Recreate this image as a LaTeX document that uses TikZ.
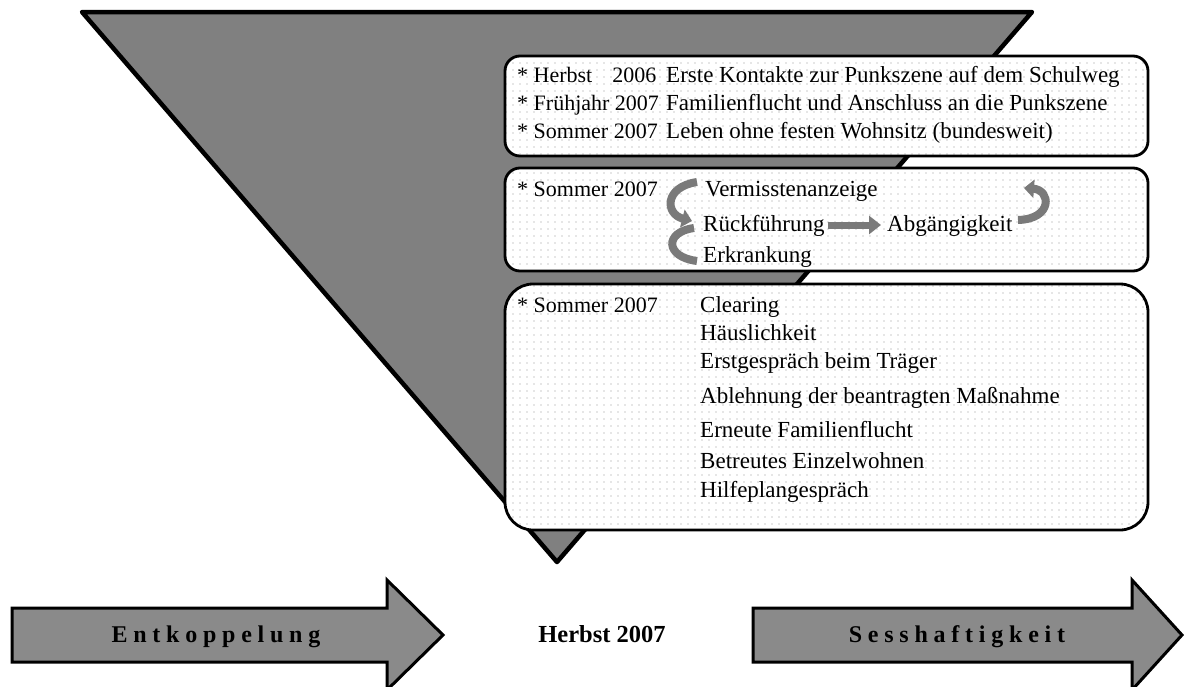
\documentclass[tikz,border=0pt]{standalone}
\usepackage{fontspec}
\setmainfont{Liberation Serif}
\newfontfamily\spacedbold[LetterSpace=24]{Liberation Serif}
\usetikzlibrary{patterns.meta,arrows.meta}
\definecolor{wedge}{HTML}{808080}
\definecolor{flowfill}{HTML}{8A8A8A}
\definecolor{loopgray}{HTML}{7A7A7A}
\begin{document}
\begin{tikzpicture}[x=1pt,y=-1pt,
  txt/.style={anchor=base west, inner sep=0pt, font=\fontsize{23}{27}\selectfont},
  datetxt/.style={anchor=base west, inner sep=0pt, font=\fontsize{22}{26}\selectfont},
  panel/.style={preaction={fill=white}, pattern={Dots[distance=6.5pt,radius=0.7pt]},
    pattern color=black!42, draw=black, line width=2.8pt},
  flow/.style={draw=black, line width=3pt, fill=flowfill, line join=miter},
  flowlabel/.style={inner sep=0pt, font=\fontsize{24}{28}\selectfont\spacedbold\bfseries},
  loop/.style={draw=loopgray, line width=8pt, -{Triangle[length=10pt,width=18pt]}},
  loopplain/.style={draw=loopgray, line width=8pt},
]
\useasboundingbox (0,0) rectangle (1184,686);

% inverted wedge
\draw[fill=wedge, line width=4.5pt, line join=round] (82,12) -- (1032,12) -- (557,562) -- cycle;

% panels
\draw[panel, rounded corners=15pt] (505,56) rectangle (1148,156);
\draw[panel, rounded corners=15pt] (505,168) rectangle (1148,271);
\draw[panel, rounded corners=28pt] (505,284) rectangle (1148,530);

% first panel
\node[datetxt] (d1) at (517,82) {* Herbst\hspace{20pt}2006};
\node[datetxt] (d2) at (517,110) {* Frühjahr 2007};
\node[datetxt] (d3) at (517,138) {* Sommer 2007};
\node[txt] (e1) at (666,82) {Erste Kontakte zur Punkszene auf dem Schulweg};
\node[txt] (e2) at (666,110) {Familienflucht und Anschluss an die Punkszene};
\node[txt] (e3) at (666,138) {Leben ohne festen Wohnsitz (bundesweit)};

% second panel
\node[datetxt] (d4) at (517,196) {* Sommer 2007};
\node[txt] (verm) at (705,196) {Vermisstenanzeige};
\node[txt] (rueck) at (703,231) {Rückführung};
\node[txt] (abg) at (887,231) {Abgängigkeit};
\node[txt] (erkr) at (703,262) {Erkrankung};
\draw[draw=loopgray, line width=7pt, -{Triangle[length=12pt,width=18pt]}]
  ([xshift=3pt,yshift=6pt]rueck.base east) -- ([xshift=-6pt,yshift=6pt]abg.base west);
\draw[loop] (697,182) .. controls (664,187) and (665,214) .. (692,221);
\draw[loopplain] (694,228) .. controls (664,232) and (665,257) .. (697,261);
\draw[loop] (1018,220) .. controls (1053,219) and (1051,190) .. (1024,188);

% third panel
\node[datetxt] (d5) at (517,312) {* Sommer 2007};
\node[txt] (s1) at (700,312) {Clearing};
\node[txt] (s2) at (700,340) {Häuslichkeit};
\node[txt] (s3) at (700,368) {Erstgespräch beim Träger};
\node[txt] (s4) at (700,403) {Ablehnung der beantragten Maßnahme};
\node[txt] (s5) at (700,437) {Erneute Familienflucht};
\node[txt] (s6) at (700,468) {Betreutes Einzelwohnen};
\node[txt] (s7) at (700,497) {Hilfeplangespräch};

% bottom arrows
\draw[flow] (12,608) -- (387,608) -- (387,580) -- (443,635) -- (387,690) -- (387,662) -- (12,662) -- cycle;
\draw[flow] (753,608) -- (1132,608) -- (1132,580) -- (1182,635) -- (1132,690) -- (1132,662) -- (753,662) -- cycle;
\node[flowlabel] (ent) at (216,637) {Entkoppelung};
\node[flowlabel] (sess) at (957,637) {Sesshaftigkeit};
\node[inner sep=0pt, font=\fontsize{24.5}{28}\selectfont\bfseries] (herbst) at (602,634) {Herbst 2007};
\end{tikzpicture}
\end{document}
